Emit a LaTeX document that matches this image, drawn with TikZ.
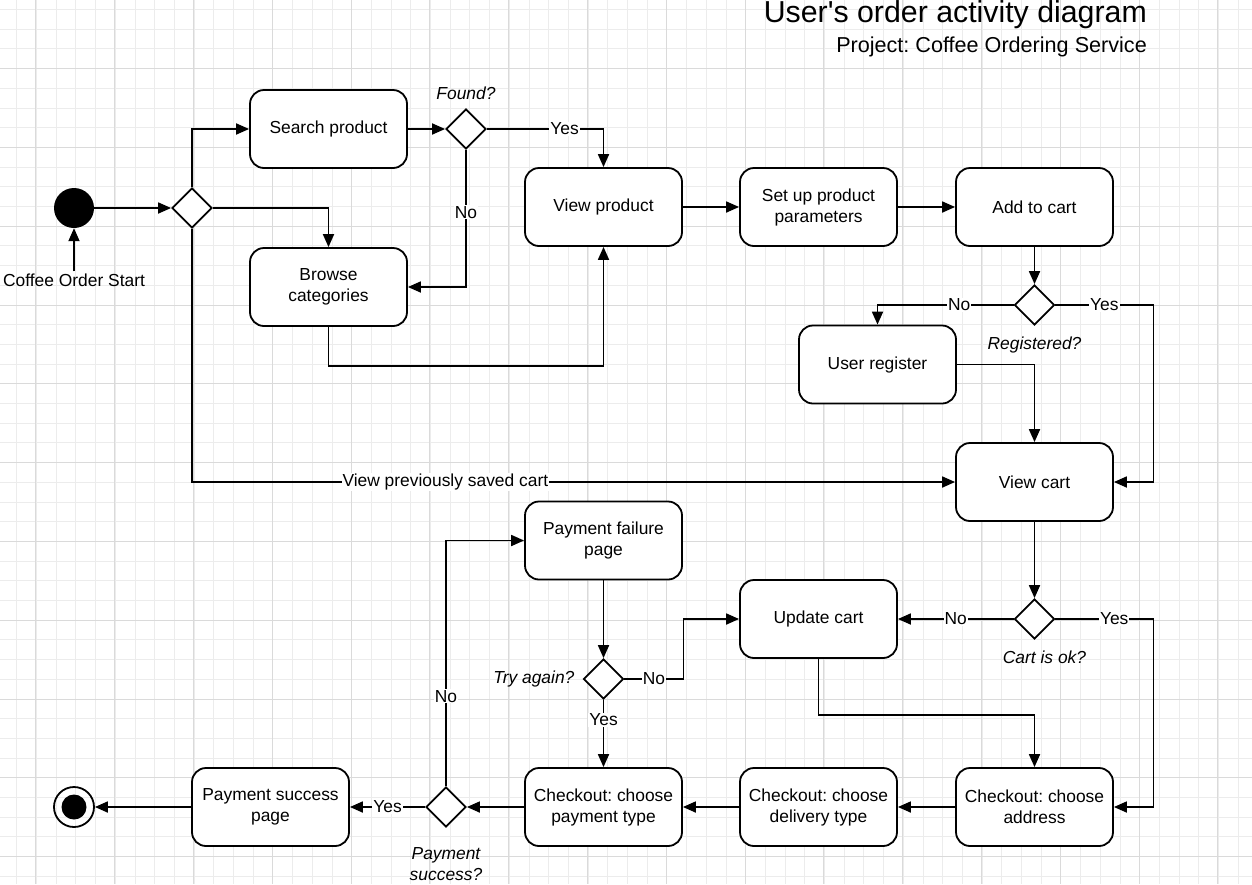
\documentclass[tikz,border=0pt]{standalone}
\usepackage{fontspec}
\setmainfont{Liberation Sans}
\frenchspacing
\usetikzlibrary{arrows.meta,positioning,shapes.geometric}
\definecolor{gridminor}{RGB}{236,236,236}
\definecolor{gridmajor}{RGB}{218,218,218}
\newcommand{\boxfont}{\fontsize{17.4}{21}\selectfont}
\begin{document}
\begin{tikzpicture}[x=1pt,y=-1pt,
    activity/.style={draw, rounded corners=14pt, line width=1.8pt, fill=white,
      minimum width=157pt, minimum height=78pt, align=center, font=\boxfont},
    decision/.style={diamond, draw, line width=1.8pt, fill=white,
      minimum width=40pt, minimum height=40pt, inner sep=0pt},
    flow/.style={line width=1.8pt, -{Triangle[length=13pt,width=11pt]}},
    lbl/.style={fill=white, inner sep=1pt, font=\boxfont},
    question/.style={inner sep=0pt, align=center, font=\boxfont\itshape}]
        \useasboundingbox[fill=white] (0,0) rectangle (1252,884);
        \foreach \i in {0,...,62}
          \draw[gridminor,line width=0.7pt] ({16.7+19.7*\i},0) -- ++(0,884);
        \foreach \j in {0,...,44}
          \draw[gridminor,line width=0.7pt] (0,{9.4+19.7*\j}) -- ++(1252,0);
        \foreach \i in {0,...,15}
          \draw[gridmajor,line width=0.7pt] ({35.7+78.8*\i},0) -- ++(0,884);
        \foreach \j in {0,...,10}
          \draw[gridmajor,line width=0.7pt] (0,{68.5+78.8*\j}) -- ++(1252,0);

        \node[anchor=base east,inner sep=0pt,font=\fontsize{30.3}{36}\selectfont] (title) at (1147,22) {User\textquotesingle s order activity diagram};
        \node[anchor=base east,inner sep=0pt,font=\fontsize{21.6}{26}\selectfont] (project) at (1147,52) {Project: Coffee Ordering Service};

        \node[circle,fill=black,minimum size=40pt,inner sep=0pt] (start) at (74,208) {};
        \node[font=\boxfont,inner sep=2pt] (startlbl) at (74,280) {Coffee Order Start};
        \node[decision] (fork) at (192,208) {};
        \node[activity] (search) at (328.5,129) {Search product};
        \node[decision] (found) at (466,129) {};
        \node[question,above=8pt of found] {Found?};
        \node[activity] (browse) at (328.5,287) {Browse\\categories};
        \node[activity] (viewprod) at (603.5,207) {View product};
        \node[activity] (setup) at (818.5,207) {Set up product\\parameters};
        \node[activity] (addcart) at (1034.5,207) {Add to cart};
        \node[decision] (reg) at (1034.5,305) {};
        \node[question,below=11pt of reg] {Registered?};
        \node[activity] (userreg) at (877.5,364.5) {User register};
        \node[activity] (viewcart) at (1034.5,482) {View cart};
        \node[decision] (cartok) at (1034.5,619) {};
        \node[question,below=11pt of cartok,xshift=10pt] {Cart is ok?};
        \node[activity] (update) at (818.5,619) {Update cart};
        \node[activity] (failpage) at (603.5,540.5) {Payment failure\\page};
        \node[decision] (tryagain) at (603.5,679) {};
        \node[question,left=8pt of tryagain] {Try again?};
        \node[activity] (address) at (1034.5,807) {Checkout: choose\\address};
        \node[activity] (delivery) at (818.5,807) {Checkout: choose\\delivery type};
        \node[activity] (paytype) at (603.5,807) {Checkout: choose\\payment type};
        \node[decision] (paysucc) at (446,807) {};
        \node[question,below=19pt of paysucc] {Payment\\success?};
        \node[activity] (succpage) at (270.5,807) {Payment success\\page};
        \node[circle,draw,line width=1.8pt,minimum size=40pt,inner sep=0pt,
          path picture={\fill (path picture bounding box.center) circle (12.5pt);}] (finish) at (74,807) {};

        \draw[flow] (startlbl) -- (start);
        \draw[flow] (start) -- (fork);
        \draw[flow] (fork.north) |- (search);
        \draw[flow] (fork.east) -| (browse);
        \draw[flow] (fork.south) |- node[lbl,pos=0.666] {View previously saved cart} (viewcart);
        \draw[flow] (search) -- (found);
        \draw[flow] (found.east) -| node[lbl,pos=0.333] {Yes} (viewprod);
        \draw[flow] (found.south) |- node[lbl,pos=0.227] {No} (browse);
        \draw[flow] (browse.south) -- ++(0,39) -| (viewprod);
        \draw[flow] (viewprod) -- (setup);
        \draw[flow] (setup) -- (addcart);
        \draw[flow] (addcart) -- (reg);
        \draw[flow] (reg.west) -| node[lbl,pos=0.2] {No} (userreg);
        \draw[flow] (reg.east) -- node[lbl] {Yes} ++(98,0) |- (viewcart);
        \draw[flow] (userreg.east) -| (viewcart);
        \draw[flow] (viewcart) -- (cartok);
        \draw[flow] (cartok) -- node[lbl] {No} (update);
        \draw[flow] (cartok.east) -- node[lbl,pos=0.6] {Yes} ++(98,0) |- (address);
        \draw[flow] (update.south) -- ++(0,56) -| (address);
        \draw[flow] (address) -- (delivery);
        \draw[flow] (delivery) -- (paytype);
        \draw[flow] (paytype) -- (paysucc);
        \draw[flow] (paysucc) -- node[lbl] {Yes} (succpage);
        \draw[flow] (paysucc.north) |- node[lbl,pos=0.183] {No} (failpage);
        \draw[flow] (failpage) -- (tryagain);
        \draw[flow] (tryagain.east) -- node[lbl] {No} ++(59,0) |- (update);
        \draw[flow] (tryagain) -- node[lbl,pos=0.3] {Yes} (paytype);
        \draw[flow] (succpage) -- (finish);
      \end{tikzpicture}
\end{document}
